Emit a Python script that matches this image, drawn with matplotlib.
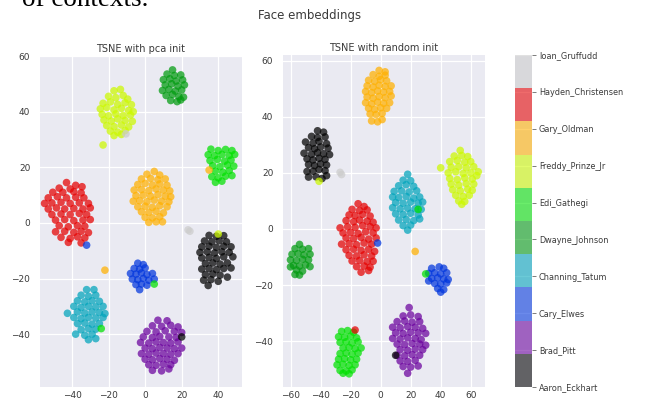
import matplotlib
matplotlib.use("Agg")
import matplotlib.pyplot as plt
import numpy as np

# ---------------- data ----------------
names = ['Aaron_Eckhart', 'Brad_Pitt', 'Cary_Elwes', 'Channing_Tatum', 'Dwayne_Johnson',
         'Edi_Gathegi', 'Freddy_Prinze_Jr', 'Gary_Oldman', 'Hayden_Christensen', 'Ioan_Gruffudd']

# ---- TSNE with pca init (left) : label -> points ----
pca_aaron = [(35,-4.5),(39,-4.8),(43,-4.6),(32.5,-6.5),(36.5,-6.8),(40.5,-6.4),(44.5,-6.8),(31,-8.6),(35,-8.4),(39,-8.8),(43,-8.4),(47,-8.6),(30,-10.6),(34,-10.4),(38,-10.8),(42,-10.4),(46,-10.6),(48,-12.2),(31,-12.6),(35,-12.4),(39,-12.8),(43,-12.2),(33,-14.6),(37,-14.4),(41,-14.8),(45,-14.4),(31,-16.6),(35,-16.4),(39,-16.8),(43,-16.4),(47,-16.2),(33,-18.6),(37,-18.4),(41,-18.8),(45,-19.5),(32,-20.6),(36,-20.4),(40,-21),(34.5,-22.5)]
pca_brad = [(7,-35),(12,-35.2),(4,-37),(9,-37.2),(14,-36.8),(18,-37.4),(1,-39),(6,-39.2),(11,-38.8),(16,-39),(20,-39.4),(-1,-41),(4,-41.2),(8,-40.8),(13,-41),(17,-41.2),(-2.5,-43),(2,-43.2),(6,-42.8),(10,-43),(14,-43.2),(18,-42.8),(0,-45),(4,-45.2),(8,-44.8),(12,-45),(16,-45.2),(20,-45),(-2,-47),(2,-47.2),(6,-46.8),(10,-47),(14,-47.2),(18,-47),(0,-49),(4,-49.2),(8,-48.8),(12,-49),(16,-49.4),(2,-51),(6,-51.2),(10,-50.8),(14,-51),(4,-53),(9,-53.2),(13,-52.5)]
pca_cary = [(-4,-14.5),(-1,-15),(-6,-16.4),(-3,-16.6),(0,-16.2),(-8,-18.2),(-5,-18.4),(-2,-18),(1,-18.6),(4,-18.2),(-7,-20.2),(-4,-20.4),(-1,-20),(2,-20.6),(5,-20.2),(-5,-22.2),(-2,-22),(1,-22.4),(-3,-24)]
pca_channing = [(-32,-24),(-28,-24),(-35,-26),(-31,-26.4),(-27,-26),(-37,-28),(-33,-28.4),(-29,-28),(-25,-28.2),(-39,-30),(-35,-30.4),(-31,-30),(-27,-30.2),(-23,-30),(-42.5,-32.5),(-37,-32),(-33,-32.4),(-29,-32),(-25,-32.2),(-22,-32.6),(-39,-34),(-35,-34.4),(-31,-34),(-27,-34.2),(-23,-34),(-37,-36.2),(-33,-36),(-29,-36.4),(-25,-36.2),(-35,-38.4),(-31,-38),(-27,-38.2),(-38,-40),(-33,-40.4),(-29,-40),(-31,-42),(-27,-41.6)]
pca_dwayne = [(15,55),(12,53.5),(16,53),(19.5,53.2),(10,51.5),(13.5,51.8),(17,51),(20.5,51.4),(11,49.6),(14.5,50),(18,49.2),(21.5,49.6),(9.5,47.6),(13,48),(16.5,47.4),(20,47.8),(11.5,45.8),(15,46.2),(18.5,45.4),(21,45.2),(14,44),(17.5,43.6),(19.5,44.2)]
pca_edi = [(36,26.5),(40,26),(44,26.4),(47.5,26),(34.5,24.5),(38,24.2),(42,24.6),(46,24.2),(49,24.6),(35.5,22.4),(39.5,22.8),(43.5,22.2),(47,22.6),(37,20.6),(41,20.2),(45,20.8),(48.5,20.4),(38.5,18.6),(42.5,18.2),(46,18.8),(36.5,16.6),(40,16.2),(44,16.8),(47.5,17),(38.5,14.6),(42,15)]
pca_freddy = [(-17,47.5),(-13.5,48),(-20,45.5),(-16,45),(-12,45.8),(-9.5,44.5),(-23,43),(-19,43.5),(-15,42.6),(-11,43.2),(-7.5,42.5),(-24.5,41),(-21,41.5),(-17,40.6),(-13,41.2),(-9,40.4),(-6.5,40),(-23.5,39),(-20,38.5),(-16,39.2),(-12,38.6),(-8,38.8),(-22.5,37),(-18.5,36.6),(-15,37.4),(-11,36.8),(-7,36.5),(-21,35),(-17,34.6),(-13,35.2),(-9,34.5),(-19,33),(-15,32.6),(-11,33.2),(-17,31.4),(-13,31.8),(-23,28)]
pca_gary = [(5,18.5),(1,17.5),(8,17.2),(-2,15.8),(3,16),(7,15.5),(11,15.8),(-4,13.8),(0,14.2),(4,13.6),(8,14),(12,13.5),(-6,11.8),(-2,12),(2,11.6),(6,12.2),(10,11.8),(13.5,11.5),(-5,9.8),(-1,10),(3,9.6),(7,10.2),(11,9.6),(14,9.4),(-6.5,7.8),(-3,8),(1,7.6),(5,8.2),(9,7.8),(13,7.6),(-4,5.8),(0,6),(4,5.6),(8,6.2),(12,5.8),(-2,4),(2,3.8),(6,4.2),(10,3.6),(0,2),(4,1.8),(8,2.2),(2,0.2),(6,0.4),(9.5,0.4)]
pca_hayden = [(-43,14.5),(-38,13.5),(-34.5,13),(-47,12.5),(-41,12.2),(-50.5,11),(-45,11),(-39,11.2),(-35,10.8),(-53,9),(-48,9.4),(-43,9),(-38,9.2),(-33.5,9),(-55,7),(-51,7.2),(-46,7.4),(-41,7),(-36,7.2),(-31,7),(-53,5),(-48.5,5.4),(-44,5),(-39,5.2),(-34,5),(-30,5.4),(-51,3),(-46,3.2),(-41,3),(-36,3.4),(-32,3),(-49,1),(-44,1.2),(-39,0.8),(-34,1),(-30,1.2),(-47,-1),(-42,-1.4),(-37,-1),(-33,-1.2),(-49,-3.2),(-44,-3),(-39,-3.4),(-35,-3),(-31,-3.5),(-46,-5.2),(-41,-5.6),(-37,-5),(-33,-5.4),(-42,-7),(-35,-7.2)]
pca_ioan = [(23.5,-2.5),(24.5,-3),(-10.5,32)]
# stray points: (x, y, label)
pca_strays = [(35,19,7),(-32,-8,2),(40,-4,6),(5,-22,5),(-22,-17,7),(-24,-38,5),(20,-41,0)]

# ---- TSNE with random init (right) ----
rnd_aaron = [(-42,35),(-38,34.5),(-46,33),(-42,32.6),(-37,32.8),(-50,31),(-45,30.6),(-41,31.2),(-36,30.4),(-48,29),(-44,28.6),(-40,29.2),(-35,28.8),(-51,27),(-46,26.6),(-42,27.2),(-38,26.8),(-34,26.5),(-49,25),(-45,24.6),(-41,25.2),(-37,24.8),(-48,23),(-44,22.6),(-40,23.2),(-36,22.8),(-49,20.5),(-45,20.6),(-41,21.2),(-37,20.8),(-48,18.5),(-43,18.6),(-39,18),(-36,19)]
rnd_brad = [(19,-28),(15,-31),(20,-30.6),(25,-31.2),(11,-33),(16,-32.8),(21,-33.2),(26,-33),(8,-35),(13,-35.2),(18,-34.8),(23,-35),(28,-35.4),(10,-37),(15,-37.2),(20,-36.8),(25,-37),(30,-37.2),(8,-39),(13,-39.2),(18,-38.8),(23,-39),(27,-39.4),(11,-41),(16,-41.2),(21,-40.8),(26,-41),(30,-41.4),(13,-43),(18,-43.2),(23,-42.8),(28,-43),(11,-45),(16,-45.2),(21,-44.8),(26,-45),(13,-47),(18,-47.2),(23,-46.8),(15,-49),(20,-49.2),(25,-48.8),(18,-51.4)]
rnd_cary = [(34,-14),(39,-13.5),(42,-14),(32,-15.8),(36,-15.6),(40,-16),(44,-15.6),(34,-17.6),(38,-17.4),(42,-17.8),(45,-18),(32,-18.5),(36,-19.4),(40,-19.6),(44,-19.2),(38,-21.2),(42,-21.6),(40,-22.5)]
rnd_channing = [(18,19.5),(15,17.4),(20,17.2),(12,15.4),(17,15.8),(22,15.2),(9,13.4),(14,13.6),(19,13.2),(24,13.6),(8,11.4),(12,11.2),(17,11.6),(22,11),(26,11.4),(10,9.4),(15,9.2),(20,9.6),(25,9.2),(28,9.6),(8,7.6),(13,7.2),(18,7.4),(23,7.2),(27,7),(10,5.4),(15,5.2),(20,5.6),(25,5),(12,3.2),(17,3.4),(22,3),(26,3.6),(15,1.2),(20,1.4),(18,-0.4)]
rnd_dwayne = [(-54,-5.5),(-57,-7),(-52,-7.2),(-48,-7),(-59,-9),(-55,-8.8),(-51,-9.2),(-47,-9),(-60,-11),(-56,-11.2),(-52,-10.8),(-48,-11),(-58,-13),(-54,-13.2),(-50,-12.8),(-47,-13.4),(-60,-13.5),(-56,-14.6),(-52,-15),(-57,-16.2),(-54,-16.4)]
rnd_edi = [(-26,-36.5),(-22,-36.2),(-18,-36.8),(-28,-38.4),(-24,-38.6),(-20,-38.2),(-16,-38.8),(-27,-40.4),(-23,-40.2),(-19,-40.6),(-15,-40.2),(-25,-42.4),(-21,-42.2),(-17,-42.6),(-13,-42.4),(-27,-44.4),(-23,-44.2),(-19,-44.6),(-15,-44.2),(-28,-46.4),(-24,-46.2),(-20,-46.6),(-16,-46.4),(-29,-48.4),(-25,-48.2),(-21,-48.6),(-17,-48.4),(-27,-50.4),(-23,-50.6),(-19,-50.2),(-25,-51.4),(-21,-51.6)]
rnd_freddy = [(53,28),(49,26),(54,26.2),(58,25.8),(46,24),(51,24.4),(56,23.8),(60,24),(40,21.8),(47,22),(52,22.2),(57,21.8),(62,22.2),(65,20.4),(45,20),(50,20.4),(55,19.8),(60,20),(46,18),(51,17.6),(56,18.2),(61,17.8),(64,19),(47,16),(52,15.6),(57,16.2),(62,16),(48,14),(53,13.6),(58,14.2),(61,13.8),(50,12),(55,11.6),(59,12),(52,10),(56,9.8),(54,8.8)]
rnd_gary = [(-1,56.5),(3,56),(-5,55),(-1,54.4),(3,54.8),(-8,53),(-4,52.6),(0,53.2),(4,52.8),(-9,51),(-5,50.6),(-1,51.2),(3,50.8),(7,51),(-10,49),(-6,48.6),(-2,49.2),(2,48.8),(6,49),(-9,47),(-5,46.6),(-1,47.2),(3,46.8),(7,47.4),(-10,45),(-6,44.6),(-2,45.2),(2,44.8),(6,45),(-8,43),(-4,42.6),(0,43.2),(4,43),(-7,41),(-3,40.8),(1,41.2),(-6,38.5),(-2,38.2),(1,39)]
rnd_hayden = [(-15,9),(-11,8),(-19,7),(-14,6.6),(-9,6.8),(-21,5),(-17,4.8),(-12,5.2),(-7,4.6),(-23,3),(-18,2.6),(-14,3.2),(-9,2.8),(-5,2.4),(-27,0.4),(-22,0.8),(-17,0.6),(-12,1.2),(-7,0.8),(-3,0.4),(-25,-1.4),(-20,-1.2),(-15,-1.6),(-10,-1),(-5,-1.4),(-23,-3.2),(-18,-3.4),(-13,-3),(-8,-3.6),(-3,-3.2),(-26,-5.4),(-21,-5.2),(-16,-5.6),(-11,-5),(-6,-5.4),(-23,-7.4),(-18,-7.2),(-13,-7.6),(-8,-7.2),(-4,-8),(-21,-9.4),(-16,-9.6),(-11,-9.2),(-6,-9.6),(-19,-11.4),(-14,-11.2),(-9,-11.6),(-5,-11.5),(-16,-13.4),(-11,-13.2),(-7,-13.6),(-13,-15.4),(-8,-14.8)]
rnd_ioan = [(-27,20.2),(-26,19.4)]
rnd_strays = [(-41,17,6),(25,7,5),(-2,-5,2),(23,-8,7),(30,-16,5),(-17,-36,8),(10,-45,0)]

pca_clusters = [pca_aaron, pca_brad, pca_cary, pca_channing, pca_dwayne,
                pca_edi, pca_freddy, pca_gary, pca_hayden, pca_ioan]
rnd_clusters = [rnd_aaron, rnd_brad, rnd_cary, rnd_channing, rnd_dwayne,
                rnd_edi, rnd_freddy, rnd_gary, rnd_hayden, rnd_ioan]

# ---------------- style ----------------
TEXT = '#3a3a3a'
plt.rcParams.update({
    'font.family': ['DejaVu Sans'],
    'axes.facecolor': '#EAEAF2',
    'axes.edgecolor': 'white',
    'axes.grid': True,
    'grid.color': 'white',
    'grid.linewidth': 0.9,
    'axes.axisbelow': True,
    'text.color': TEXT,
    'xtick.color': TEXT,
    'ytick.color': TEXT,
})

cmap = plt.get_cmap('nipy_spectral', 10)


def gather(clusters, strays):
    xs, ys, cs = [], [], []
    for lab, pts in enumerate(clusters):
        for (x, y) in pts:
            xs.append(x); ys.append(y); cs.append(lab)
    for (x, y, lab) in strays:
        xs.append(x); ys.append(y); cs.append(lab)
    return np.array(xs), np.array(ys), np.array(cs)


W, H = 647, 400
fig = plt.figure(figsize=(W / 100, H / 100), dpi=100)


def box(x0, y0, x1, y1):
    return [x0 / W, 1 - y1 / H, (x1 - x0) / W, (y1 - y0) / H]


ax1 = fig.add_axes(box(40, 56, 242, 387))
ax2 = fig.add_axes(box(283, 55, 485, 387))
cax = fig.add_axes(box(515, 55, 532, 387))

panels = [
    (ax1, pca_clusters, pca_strays, 'TSNE with pca init', (-57.5, 53), (-59, 60), [-40, -20, 0, 20, 40]),
    (ax2, rnd_clusters, rnd_strays, 'TSNE with random init', (-65, 69.5), (-56.3, 62), [-60, -40, -20, 0, 20, 40, 60]),
]
sc = None
for ax, cl, st, title, xl, yl, xt in panels:
    x, y, c = gather(cl, st)
    sc = ax.scatter(x, y, c=c, cmap=cmap, vmin=0, vmax=9, s=30, alpha=0.72, linewidths=0)
    ax.set_xlim(*xl)
    ax.set_ylim(*yl)
    ax.set_xticks(xt)
    ax.set_yticks([-40, -20, 0, 20, 40, 60])
    ax.set_title(title, fontsize=7, pad=3, color=TEXT)
    for s in ax.spines.values():
        s.set_visible(False)
    ax.tick_params(axis='both', length=0, labelsize=6.5)
    ax.tick_params(axis='y', pad=7)
    ax.tick_params(axis='x', pad=3)

cb = fig.colorbar(sc, cax=cax, ticks=range(10))
cb.solids.set_alpha(0.58)
cb.ax.set_yticklabels(names)
cb.outline.set_visible(False)
cb.ax.tick_params(length=3, width=0.6, labelsize=5.9, pad=2, color='#666666')

fig.text(0.479, 1 - 16 / H, 'Face embeddings', ha='center', va='center', fontsize=8.5, color=TEXT)
fig.text(22 / W, 1 - 6 / H, 'of contexts.', ha='left', va='baseline',
         fontsize=19.5, family=['Liberation Serif', 'DejaVu Serif'], color='black')

fig.savefig('out.png', dpi=100)
